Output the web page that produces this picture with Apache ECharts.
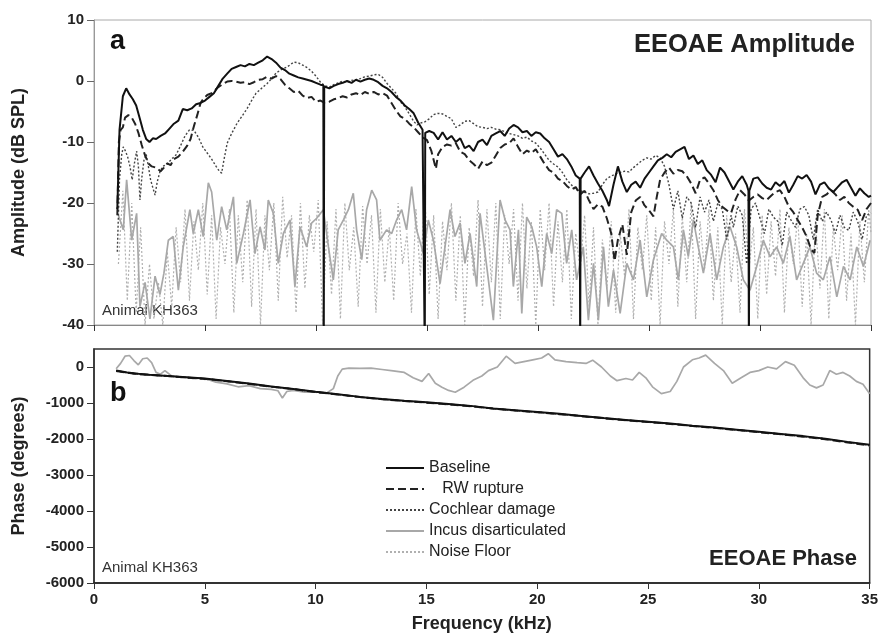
<!DOCTYPE html>
<html>
<head>
<meta charset="utf-8">
<script src="https://cdn.jsdelivr.net/npm/echarts@6/dist/echarts.min.js"></script>
<style>
html, body { margin: 0; padding: 0; background: #fff; }
#chart { width: 881px; height: 636px; }
</style>
</head>
<body>
<div id="chart"></div>
<script>
// ---- panel a : amplitude (dB SPL) ----
var baseF = [1.05,1.15,1.3,1.45,1.6,1.75,1.9,2.05,2.2,2.35,2.5,2.65,2.8,3.0,3.2,3.4,3.6,3.8,4.0,4.2,4.4,4.6,4.8,5.0,5.2,5.4,5.6,5.8,6.0,6.2,6.4,6.6,6.8,7.0,7.2,7.4,7.6,7.8,8.0,8.2,8.4,8.6,8.8,9.0,9.2,9.4,9.6,9.8,10.0,10.2,10.33,10.35,10.37,10.6,10.8,11.0,11.2,11.4,11.6,11.8,12.0,12.2,12.4,12.6,12.8,13.0,13.2,13.4,13.6,13.8,14.0,14.2,14.4,14.6,14.8,14.88,14.9,14.92,15.1,15.3,15.5,15.7,15.9,16.1,16.3,16.5,16.7,16.9,17.1,17.3,17.5,17.7,17.9,18.1,18.3,18.5,18.7,18.9,19.1,19.3,19.5,19.7,19.9,20.1,20.3,20.5,20.7,20.9,21.1,21.3,21.5,21.7,21.88,21.9,21.92,22.1,22.3,22.5,22.7,22.9,23.1,23.2,23.4,23.6,23.8,24.0,24.2,24.4,24.6,24.8,25.0,25.2,25.4,25.6,25.8,26.0,26.2,26.4,26.6,26.8,27.0,27.2,27.4,27.6,27.8,28.0,28.2,28.4,28.6,28.8,29.0,29.2,29.4,29.48,29.5,29.52,29.7,29.9,30.1,30.3,30.5,30.7,30.9,31.1,31.3,31.5,31.7,31.9,32.1,32.3,32.5,32.7,32.9,33.1,33.3,33.5,33.7,33.9,34.1,34.3,34.5,34.7,34.9,35];
var baseAmp = [-21,-8,-2.5,-1.2,-2.2,-3,-4,-6,-8,-9.5,-10,-9.4,-9.5,-9,-8.6,-7.8,-7,-6.5,-4.6,-4.8,-4.5,-3.8,-3.6,-3.2,-2.6,-2,-0.8,0.4,1.2,2,2.3,2.6,2.4,2.8,2.6,3,3.4,4,3.6,3,2.2,1.8,1.2,0.9,0.6,0.4,0.2,0,-0.3,-0.6,-0.7,-45,-0.9,-1.2,-0.8,-0.5,-0.3,0,-0.3,0.2,-0.1,0.2,0.4,0.2,-0.2,-0.8,-1.2,-1.8,-2.6,-3.2,-4,-4.6,-5.3,-6.8,-8,-8.3,-45,-8.5,-8.2,-8.5,-9.6,-8.4,-9.6,-9,-10,-9.4,-11,-10.6,-11.5,-10,-9.6,-10.5,-9,-8.6,-8.2,-9,-7.8,-7.2,-7.6,-8.4,-8.2,-9,-8.4,-8.6,-9.4,-10,-11.2,-12.4,-12,-12.8,-14,-15.5,-16,-45,-16,-15,-14,-15.5,-16.8,-18,-19.5,-20.5,-17,-14,-16.5,-18.2,-17,-16.5,-17.5,-16,-15,-14,-13,-12.6,-12,-12.5,-11.6,-11.2,-10.8,-12.8,-12.2,-13.6,-13,-14.6,-15.4,-16.6,-14.2,-15,-16.4,-17.8,-16.5,-15.6,-17,-18,-45,-18,-16,-15.8,-16.8,-17.5,-17.8,-16.6,-17.2,-16.4,-18.3,-17,-15.6,-16,-15.4,-16.5,-18.6,-17,-16.6,-17.6,-18.2,-17.4,-16.6,-16.2,-17.5,-18.8,-17.6,-18.4,-19,-18.8];

var rwF = [1.05,1.12,1.2,1.3,1.4,1.55,1.7,1.85,2.0,2.15,2.3,2.45,2.6,2.8,3.0,3.15,3.3,3.45,3.6,3.8,4.0,4.2,4.35,4.5,4.65,4.8,4.95,5.1,5.3,5.45,5.6,5.8,6.0,6.2,6.4,6.6,6.8,7.0,7.2,7.4,7.6,7.8,8.0,8.2,8.4,8.6,8.8,9.0,9.2,9.4,9.6,9.8,10.0,10.2,10.4,10.6,10.8,11.0,11.2,11.4,11.6,11.8,12.0,12.2,12.4,12.6,12.8,13.0,13.2,13.4,13.6,13.8,14.0,14.2,14.4,14.6,14.8,15.0,15.2,15.4,15.5,15.7,15.9,16.1,16.3,16.5,16.7,16.9,17.1,17.3,17.5,17.7,17.9,18.1,18.3,18.5,18.7,18.9,19.1,19.3,19.5,19.7,19.9,20.1,20.3,20.5,20.7,20.9,21.1,21.3,21.5,21.7,21.9,22.1,22.3,22.5,22.7,22.9,23.1,23.3,23.45,23.6,23.8,24.0,24.2,24.4,24.6,24.8,25.0,25.2,25.35,25.5,25.7,25.9,26.1,26.3,26.5,26.7,26.9,27.1,27.3,27.5,27.7,27.9,28.1,28.3,28.5,28.7,28.9,29.1,29.3,29.5,29.7,29.9,30.1,30.3,30.5,30.7,30.9,31.1,31.3,31.5,31.7,31.9,32.1,32.3,32.45,32.6,32.8,33.0,33.2,33.4,33.6,33.8,34.0,34.2,34.4,34.6,34.8,35];
var rwAmp = [-22,-10,-8,-7.6,-6,-5.6,-6,-7,-8.5,-10.5,-12.2,-13.5,-14,-14.2,-14.8,-14.2,-13.5,-13.8,-12.8,-12.4,-11.6,-10.6,-9.5,-7.4,-5.6,-3.6,-2.8,-2.3,-2,-1.5,-1,-0.5,-0.1,0,-0.1,-0.3,-0.2,-0.5,-0.2,0.2,0.3,0.7,0.4,0.8,0.3,-0.6,-1.2,-1.8,-1.6,-2.4,-2.8,-2.6,-3.4,-3.2,-3.6,-3.4,-3,-2.8,-2.5,-2.7,-2.2,-2,-2.3,-1.8,-2.1,-1.8,-2.2,-2,-2.4,-3.6,-4.8,-5.8,-6.2,-7,-7.6,-8.4,-9.2,-9.7,-11.5,-14.4,-12,-10.8,-10.4,-10.6,-10.2,-11.6,-12,-13,-13.6,-14.4,-13.2,-13.8,-13.4,-12.2,-11,-10.4,-10.2,-9.4,-10.8,-12,-11.4,-11.8,-11.2,-12.4,-13.6,-14.6,-15,-16,-16.4,-17.2,-17.8,-17.4,-18.6,-18,-19.6,-21,-20.2,-20.6,-22.5,-25,-29.5,-26,-23.5,-28.5,-21.5,-19.6,-19,-20.4,-21.2,-22.2,-19,-16.2,-15,-14.2,-15.2,-14.6,-14.8,-15.6,-16.8,-18.4,-16.2,-15.8,-16.8,-17.9,-19.5,-20.6,-21.2,-21.6,-19.4,-17.9,-18.6,-19.6,-19,-18.6,-19.2,-19.5,-18.8,-18.2,-17.9,-19,-20.6,-21.5,-22.8,-24,-25.5,-27.6,-28.2,-22,-19,-18.6,-17.9,-18.6,-19.5,-19,-20,-20.6,-21.1,-22.8,-21,-20];

var cochF = [1.05,1.15,1.25,1.32,1.42,1.52,1.62,1.72,1.82,1.92,2.0,2.07,2.15,2.25,2.35,2.45,2.55,2.65,2.75,2.85,2.97,3.1,3.3,3.5,3.7,3.9,4.1,4.3,4.5,4.7,4.9,5.1,5.3,5.5,5.65,5.75,5.85,6.0,6.2,6.45,6.7,6.9,7.1,7.3,7.55,7.8,8.0,8.2,8.45,8.7,9.0,9.2,9.4,9.6,9.8,10.0,10.2,10.4,10.6,10.8,11.0,11.2,11.4,11.6,11.8,12.0,12.2,12.4,12.6,12.8,13.0,13.2,13.4,13.6,13.8,14.0,14.2,14.4,14.55,14.7,14.9,15.1,15.3,15.5,15.7,15.9,16.1,16.3,16.5,16.7,16.9,17.1,17.3,17.5,17.7,17.9,18.1,18.3,18.5,18.7,18.9,19.1,19.3,19.5,19.7,19.9,20.1,20.3,20.5,20.7,20.9,21.1,21.3,21.5,21.7,21.9,22.1,22.3,22.5,22.7,22.9,23.1,23.3,23.5,23.7,23.9,24.1,24.3,24.5,24.7,24.9,25.1,25.3,25.5,25.7,25.9,26.1,26.3,26.5,26.7,26.9,27.1,27.3,27.5,27.7,27.9,28.1,28.3,28.5,28.7,28.8,29.0,29.2,29.4,29.6,29.8,30.0,30.2,30.4,30.6,30.8,31.0,31.2,31.4,31.6,31.8,32.0,32.2,32.4,32.6,32.8,33.0,33.2,33.4,33.6,33.8,34.0,34.2,34.4,34.6,34.8,35];
var cochAmp = [-28,-16,-12,-10.8,-11.5,-12.5,-14,-16.2,-13.5,-11.5,-14,-19.5,-16,-13,-12,-14,-16.2,-17.5,-18.7,-16.5,-14.9,-14,-13.6,-12.8,-12.1,-10.6,-9,-8,-8.1,-9.2,-10.8,-11.8,-12.8,-14,-14.8,-15.1,-13,-10.2,-8.6,-6.9,-5.6,-4.5,-3.2,-2,-1.2,-0.4,0.4,1.3,1.9,2.3,3.1,3,2.6,2.2,1.6,0.8,-0.2,-0.8,-1,-0.6,-0.3,0,-0.2,0.1,0.2,0.4,0.7,0.8,1,1.1,0.6,-0.4,-1.2,-2,-3.4,-4.2,-5.4,-6.6,-7.2,-6.9,-6.7,-6.2,-5.5,-5.3,-5.4,-5.8,-6.2,-7.6,-7.2,-6.6,-6.5,-7,-7.5,-7.6,-7.8,-7.6,-7.9,-8,-8.3,-8.6,-8.8,-9,-9.4,-9.2,-9.8,-10.2,-11,-12,-13,-13.6,-14.1,-15,-16.2,-17,-17.8,-18,-18.2,-18.5,-18.4,-18.2,-17,-16,-15.6,-15.2,-15,-14.8,-14.9,-14.2,-13.6,-13,-12.6,-12.8,-12.2,-12.6,-14,-17,-21,-18,-22.5,-19,-20,-24,-19,-21.5,-19.5,-23,-20,-21,-26,-22,-24,-20.5,-22,-30,-21,-20,-22.5,-25,-21,-22.3,-23,-27,-21.5,-22.8,-24,-21,-20.6,-22,-26,-21,-23,-21.5,-22.8,-25,-22,-24,-24.5,-21.5,-23,-26,-22,-21.6];

var incusF = [1.1,1.32,1.47,1.7,1.92,2.07,2.3,2.52,2.75,2.97,3.15,3.35,3.57,3.8,4.02,4.32,4.47,4.7,4.92,5.15,5.3,5.53,5.75,5.98,6.28,6.43,6.73,7.03,7.25,7.48,7.7,7.85,8.08,8.3,8.53,8.83,9.05,9.28,9.58,9.8,10.03,10.33,10.56,10.78,11.0,11.23,11.46,11.68,11.83,12.06,12.28,12.51,12.73,12.88,13.18,13.41,13.63,13.86,14.08,14.31,14.53,14.84,15.06,15.29,15.59,15.81,16.04,16.26,16.49,16.71,16.94,17.24,17.39,17.69,17.99,18.29,18.52,18.74,18.89,19.12,19.27,19.49,19.72,19.94,20.17,20.39,20.62,20.84,21.07,21.29,21.52,21.74,22.04,22.27,22.5,22.72,22.95,23.17,23.4,23.7,24.0,24.3,24.6,24.9,25.2,25.57,25.8,26.1,26.32,26.55,26.77,27.0,27.22,27.45,27.75,28.05,28.35,28.65,28.95,29.25,29.55,29.85,30.15,30.45,30.75,31.05,31.35,31.65,31.95,32.25,32.55,32.85,33.15,33.46,33.76,34.06,34.36,34.66,34.96];
var incusAmp = [-22,-24.4,-16.2,-26.1,-21.7,-37,-33,-39,-32,-35,-31.5,-26.1,-25.5,-34.3,-27.2,-21.1,-25,-21.1,-25.5,-16.7,-18.2,-26.1,-20.6,-24.4,-19,-29.9,-25,-19.5,-28.3,-23.9,-27.7,-19.5,-21.7,-29.9,-25,-22.8,-33.7,-23.9,-27.2,-23.3,-22.5,-21.1,-27.2,-32.6,-24.4,-22.8,-21.1,-18.4,-24.4,-29.3,-21.1,-17.9,-19.5,-26.1,-24.4,-25,-22.8,-21.1,-24.4,-17.3,-24.4,-28.3,-22.8,-26.1,-33.2,-27.2,-21.1,-25.5,-23.3,-29.9,-25,-33.7,-21.7,-30.4,-39.2,-19.5,-22.8,-24.4,-33.7,-24.4,-38.1,-22.3,-23.9,-27.2,-33.7,-25,-28.3,-21.1,-21.7,-29.9,-24.4,-32.6,-27.2,-39.2,-29.9,-39.2,-27.2,-37,-31,-38.1,-29.9,-32.6,-26.1,-35.4,-29.3,-25,-26.1,-27.2,-32.6,-24.4,-28.8,-22.8,-27.2,-31.5,-25,-32.6,-27.2,-23.9,-27.2,-32.6,-34.3,-30.4,-26.1,-28.8,-27.2,-29.9,-25.5,-32.6,-29.9,-27.2,-31.5,-32.6,-28.8,-35.4,-30.4,-32.6,-27.2,-30.4,-26.1];

var noiseF = [1.1,1.3,1.5,1.7,1.9,2.1,2.3,2.5,2.7,2.9,3.1,3.3,3.5,3.7,3.9,4.1,4.3,4.5,4.7,4.9,5.1,5.3,5.5,5.7,5.9,6.1,6.3,6.5,6.7,6.9,7.1,7.3,7.5,7.7,7.9,8.1,8.3,8.5,8.7,8.9,9.1,9.3,9.5,9.7,9.9,10.1,10.3,10.5,10.7,10.9,11.1,11.3,11.5,11.7,11.9,12.1,12.3,12.5,12.7,12.9,13.1,13.3,13.5,13.7,13.9,14.1,14.3,14.5,14.7,14.9,15.1,15.3,15.5,15.7,15.9,16.1,16.3,16.5,16.7,16.9,17.1,17.3,17.5,17.7,17.9,18.1,18.3,18.5,18.7,18.9,19.1,19.3,19.5,19.7,19.9,20.1,20.3,20.5,20.7,20.9,21.1,21.3,21.5,21.7,21.9,22.1,22.3,22.5,22.7,22.9,23.1,23.3,23.5,23.7,23.9,24.1,24.3,24.5,24.7,24.9,25.1,25.3,25.5,25.7,25.9,26.1,26.3,26.5,26.7,26.9,27.1,27.3,27.5,27.7,27.9,28.1,28.3,28.5,28.7,28.9,29.1,29.3,29.5,29.7,29.9,30.1,30.3,30.5,30.7,30.9,31.1,31.3,31.5,31.7,31.9,32.1,32.3,32.5,32.7,32.9,33.1,33.3,33.5,33.7,33.9,34.1,34.3,34.5,34.7,34.9,35];
var noiseAmp = [-30,-18,-36,-20,-38,-24,-40,-30,-39,-33,-40,-28,-37,-24,-33,-21,-36,-23,-31,-20,-35,-22,-39,-24,-30,-21,-38,-22,-33,-19.5,-37,-21,-40,-22,-31,-20,-36,-19,-29,-22,-38,-20,-34,-22,-28,-19.5,-40,-23,-35,-21,-39,-20,-31,-24,-37,-20.5,-30,-22,-38,-21,-33,-24,-36,-20,-30,-25,-38,-21,-32,-18.5,-35,-22,-39,-23,-31,-20,-36,-22,-40,-24,-32,-19.5,-37,-21,-33,-20,-39,-22,-30,-21,-36,-20,-34,-23,-40,-21,-31,-20,-37,-23,-33,-21,-39,-25,-31,-22,-37,-24,-40,-26,-34,-23,-38,-25,-32,-21,-39,-24,-31,-22,-36,-24,-40,-23,-30,-21,-37,-22,-33,-20,-39,-23,-31,-21,-36,-24,-40,-22,-33,-25,-38,-21,-31,-24,-39,-22,-35,-23,-32,-21,-38,-24,-30,-22,-37,-25,-40,-23,-34,-21,-39,-24,-31,-22,-36,-25,-40,-23,-33,-21,-25];

// ---- panel b : phase (degrees) ----
var phaseF = [1,1.5,2,2.5,3,3.5,4,5,6,7,8,9,10,11,12,13,14,15,16,17,18,19,20,21,22,23,24,25,26,27,28,29,30,31,32,33,34,35];
var basePhase = [-100,-150,-190,-215,-235,-255,-275,-320,-390,-460,-540,-610,-690,-760,-830,-890,-940,-980,-1030,-1080,-1150,-1200,-1250,-1300,-1360,-1420,-1470,-1520,-1570,-1630,-1680,-1740,-1800,-1860,-1920,-1990,-2080,-2160];
var rwPhase = [-110,-160,-200,-220,-240,-260,-285,-330,-395,-470,-545,-615,-695,-765,-835,-895,-945,-990,-1040,-1090,-1155,-1210,-1255,-1310,-1365,-1425,-1480,-1525,-1580,-1640,-1690,-1750,-1810,-1870,-1935,-2005,-2095,-2180];
var cochPhase = [-105,-155,-195,-220,-240,-258,-280,-325,-392,-465,-542,-612,-692,-762,-832,-892,-942,-985,-1035,-1085,-1152,-1205,-1252,-1305,-1362,-1422,-1475,-1522,-1575,-1635,-1685,-1745,-1805,-1865,-1925,-1995,-2085,-2170];
var noisePhase = [-120,-170,-210,-230,-250,-270,-300,-350,-410,-480,-560,-630,-705,-775,-845,-905,-955,-1000,-1050,-1100,-1165,-1220,-1265,-1320,-1375,-1435,-1490,-1540,-1590,-1650,-1700,-1760,-1820,-1880,-1945,-2015,-2100,-2190];

var incusPF = [1.0,1.2,1.4,1.6,1.8,2.0,2.2,2.4,2.6,2.8,3.0,3.2,3.5,4,4.5,5,5.5,6,6.5,7,7.5,8,8.3,8.5,8.7,9,9.5,10,10.5,10.8,11.0,11.2,11.5,12,12.5,13,13.5,14,14.4,14.8,15.1,15.4,15.7,16.0,16.3,16.7,17.1,17.5,17.8,18.2,18.6,19.0,19.4,19.8,20.2,20.5,20.8,21.3,21.8,22.2,22.5,22.9,23.3,23.6,24.0,24.3,24.6,24.9,25.2,25.6,26.0,26.3,26.6,27.0,27.3,27.6,28.0,28.4,28.8,29.2,29.6,30.0,30.4,30.8,31.2,31.6,32.0,32.3,32.6,32.9,33.2,33.5,33.8,34.1,34.4,34.7,35];
var incusPhase = [-50,100,300,320,180,60,230,250,120,-150,-200,-100,-250,-280,-300,-320,-420,-470,-550,-520,-600,-620,-660,-860,-680,-650,-700,-690,-720,-600,-250,-60,-30,-40,-30,-70,-110,-150,-300,-400,-180,-450,-560,-650,-700,-560,-370,-250,-100,0,300,100,150,200,250,370,200,150,120,100,190,0,-250,-380,-320,-360,-150,-300,-550,-740,-680,-400,0,200,250,330,100,-100,-450,-300,-150,-100,0,-50,150,50,-300,-500,-580,-500,-100,-200,-150,-250,-400,-480,-740];

var seriesNames = ['Baseline', 'RW rupture', 'Cochlear damage', 'Incus disarticulated', 'Noise Floor'];

function pairs(xs, ys) {
  return xs.map(function (x, i) { return [x, ys[i]]; });
}

var FONT = "'Liberation Sans', Arial, sans-serif";
var styles = {
  'Baseline': { color: '#111', width: 2, type: 'solid' },
  'RW rupture': { color: '#222', width: 2, type: [8, 4] },
  'Cochlear damage': { color: '#444', width: 1.4, type: [2, 2] },
  'Incus disarticulated': { color: '#a8a8a8', width: 1.7, type: 'solid' },
  'Noise Floor': { color: '#b0b0b0', width: 1.2, type: [2, 2] }
};

function line(name, data, axisIdx, z) {
  var s = styles[name];
  return {
    name: name, type: 'line', xAxisIndex: axisIdx, yAxisIndex: axisIdx,
    data: data, symbol: 'none', animation: false, z: z,
    color: s.color,
    lineStyle: { color: s.color, width: s.width, type: s.type }
  };
}

var chart = echarts.init(document.getElementById('chart'));

var xCommon = {
  type: 'value', min: 0, max: 35, interval: 5,
  splitLine: { show: false },
  axisTick: { inside: false, length: 6, lineStyle: { color: '#333' } }
};

function plainNum(v) { return String(v); }

chart.setOption({
  backgroundColor: '#fff',
  textStyle: { fontFamily: FONT },
  grid: [
    { left: 94, right: 10, top: 20, height: 305, show: true, borderColor: '#aaa', borderWidth: 1 },
    { left: 94, right: 10, top: 349, height: 234, show: true, borderColor: '#333', borderWidth: 1.5 }
  ],
  legend: {
    orient: 'vertical', left: 380, top: 455,
    itemWidth: 38, itemHeight: 14, itemGap: 5,
    itemStyle: { opacity: 0 },
    textStyle: { fontSize: 16, color: '#222', fontFamily: FONT },
    formatter: function (n) { return n === 'RW rupture' ? '   ' + n : n; },
    data: seriesNames
  },
  xAxis: [
    Object.assign({}, xCommon, {
      gridIndex: 0,
      axisLine: { onZero: false, lineStyle: { color: '#888', width: 1 } },
      axisLabel: { show: false }
    }),
    Object.assign({}, xCommon, {
      gridIndex: 1,
      name: 'Frequency (kHz)', nameLocation: 'middle', nameGap: 32,
      nameTextStyle: { fontSize: 18, fontWeight: 'bold', color: '#222', fontFamily: FONT },
      axisLine: { onZero: false, lineStyle: { color: '#222', width: 1.5 } },
      axisLabel: { fontSize: 15, fontWeight: 'bold', color: '#222', margin: 9, fontFamily: FONT }
    })
  ],
  yAxis: [
    {
      type: 'value', gridIndex: 0, min: -40, max: 10, interval: 10,
      name: 'Amplitude (dB SPL)', nameLocation: 'middle', nameGap: 66,
      nameTextStyle: { fontSize: 18, fontWeight: 'bold', color: '#222', fontFamily: FONT },
      splitLine: { show: false },
      axisLine: { show: true, onZero: false, lineStyle: { color: '#999' } },
      axisTick: { show: true, length: 7, lineStyle: { color: '#666' } },
      axisLabel: { fontSize: 15, fontWeight: 'bold', color: '#222', margin: 10, formatter: plainNum, fontFamily: FONT }
    },
    {
      type: 'value', gridIndex: 1, min: -6000, max: 500, interval: 1000,
      name: 'Phase (degrees)', nameLocation: 'middle', nameGap: 66,
      nameTextStyle: { fontSize: 18, fontWeight: 'bold', color: '#222', fontFamily: FONT },
      splitLine: { show: false },
      axisLine: { show: true, onZero: false, lineStyle: { color: '#333', width: 1.5 } },
      axisTick: { show: true, length: 7, lineStyle: { color: '#333' } },
      axisLabel: { fontSize: 15, fontWeight: 'bold', color: '#222', margin: 10, showMaxLabel: false, formatter: plainNum, fontFamily: FONT }
    }
  ],
  series: [
    line('Noise Floor', pairs(noiseF, noiseAmp), 0, 1),
    line('Incus disarticulated', pairs(incusF, incusAmp), 0, 2),
    line('Cochlear damage', pairs(cochF, cochAmp), 0, 3),
    line('RW rupture', pairs(rwF, rwAmp), 0, 4),
    line('Baseline', pairs(baseF, baseAmp), 0, 5),
    line('Noise Floor', pairs(phaseF, noisePhase), 1, 1),
    line('Incus disarticulated', pairs(incusPF, incusPhase), 1, 2),
    line('Cochlear damage', pairs(phaseF, cochPhase), 1, 3),
    line('RW rupture', pairs(phaseF, rwPhase), 1, 4),
    line('Baseline', pairs(phaseF, basePhase), 1, 5)
  ],
  graphic: [
    { type: 'text', left: 110, top: 28, style: { text: 'a', font: 'bold 27px ' + FONT, fill: '#111' } },
    { type: 'text', right: 26, top: 32, style: { text: 'EEOAE Amplitude', font: 'bold 25.5px ' + FONT, fill: '#222' } },
    { type: 'text', left: 102, top: 303, style: { text: 'Animal KH363', font: '15px ' + FONT, fill: '#333' } },
    { type: 'text', left: 110, top: 380, style: { text: 'b', font: 'bold 27px ' + FONT, fill: '#111' } },
    { type: 'text', right: 24, top: 548, style: { text: 'EEOAE Phase', font: 'bold 22px ' + FONT, fill: '#222' } },
    { type: 'text', left: 102, top: 560, style: { text: 'Animal KH363', font: '15px ' + FONT, fill: '#333' } }
  ]
});
</script>
</body>
</html>
